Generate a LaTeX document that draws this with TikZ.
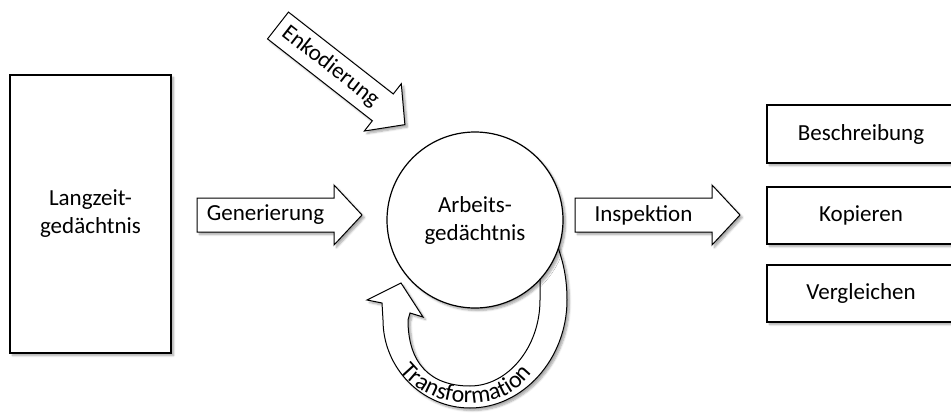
\documentclass[tikz,border=0pt]{standalone}
\usepackage{fontspec}
\setmainfont{Carlito}
\usetikzlibrary{shadows.blur,decorations.text}
\newcommand\blkarrow[5]{%
  \begin{scope}[shift={#2}, rotate=#3]
    \draw[arrowshape] (0,-17) -- ({#4-28},-17) -- ({#4-28},-30) -- (#4,0)
      -- ({#4-28},30) -- ({#4-28},17) -- (0,17) -- cycle;
    \node[lbl, rotate=#3] (#1) at ({(#4-28)/2},0) {#5};
  \end{scope}}
\begin{document}
\begin{tikzpicture}[x=1pt,y=-1pt,
  every node/.append style={font=\fontsize{23}{28}\selectfont},
  shd/.style={blur shadow={shadow xshift=2.5pt,shadow yshift=-2.5pt,
      shadow blur radius=2pt,shadow blur steps=6,shadow opacity=35}},
  box/.style={draw, line width=1.3pt, fill=white, shd, inner sep=0pt, align=center},
  arrowshape/.style={draw, line width=1pt, fill=white, shd, line join=miter},
  lbl/.style={inner sep=0pt}]
\useasboundingbox (0,0) rectangle (951,415);

% long-term memory
\node[box, minimum width=161pt, minimum height=278pt] (ltm) at (90.5,214)
  {Langzeit-\\ged\"achtnis};

% output boxes
\node[box, minimum width=188pt, minimum height=58pt] (besch) at (861,134) {Beschreibung};
\node[box, minimum width=188pt, minimum height=57pt] (kop) at (861,215.5) {Kopieren};
\node[box, minimum width=188pt, minimum height=57pt] (verg) at (861,293.5) {Vergleichen};

% block arrows
\blkarrow{gen}{(197,215)}{0}{165}{Generierung}
\blkarrow{insp}{(575,215)}{0}{165}{Inspektion}
\blkarrow{enk}{(278,25.5)}{-38}{161}{Enkodierung}

% transformation loop
\draw[arrowshape] (540,265) -- (540,300)
  .. controls (540,347) and (508,386) .. (470,386)
  .. controls (430,386) and (408,363) .. (408,320)
  -- (410,313) -- (423,317) -- (401,283) -- (367,300) -- (382,303) -- (383,320)
  .. controls (383,368) and (422,408) .. (470,408)
  .. controls (523,408) and (567,359) .. (567,300)
  .. controls (567,275) and (562,258) .. (556,242) -- cycle;
\path[decorate, decoration={text along path,
    text={|\fontsize{24}{28}\selectfont|Transformation},
    text align=center}]
  (396,366) .. controls (414,392) and (440,403) .. (470,403)
  .. controls (500,403) and (521,390) .. (536,368);

% working memory
\node[box, circle, line width=1.2pt, minimum size=176pt] (wm) at (475,220)
  {Arbeits-\\ged\"achtnis};
\end{tikzpicture}
\end{document}
